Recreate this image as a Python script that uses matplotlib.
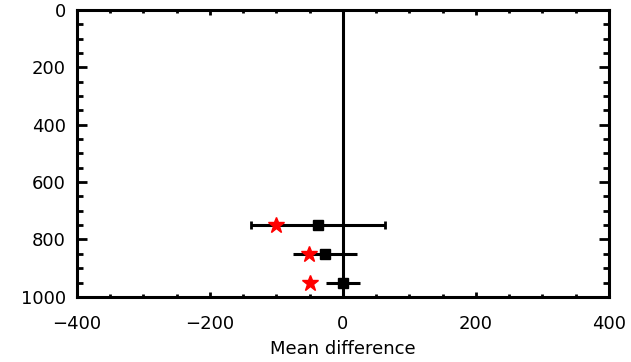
import numpy as np
import matplotlib.pyplot as plt

levels = [750, 850, 950]
black_x = [-38, -27, 0]
black_err = [101, 48, 25]
red_x = [-101, -51, -50]
black_caps = [3, 0, 0]

fig = plt.figure(figsize=(6.31, 3.62), dpi=100)
ax = fig.add_axes([0.122, 0.180, 0.843, 0.792])

ax.axvline(0, color='black', lw=2.2, zorder=1)

for x, y, e, c in zip(black_x, levels, black_err, black_caps):
    ax.errorbar(x, y, xerr=e, fmt='s', color='black', ms=7, elinewidth=2.2,
                capsize=c, capthick=2, zorder=3)
ax.plot(red_x, levels, '*', color='red', ms=12, mec='red', zorder=4, lw=0)

ax.set_xlim(-400, 400)
ax.set_ylim(1000, 0)
ax.set_xticks(np.arange(-400, 401, 200))
ax.set_xticks(np.arange(-400, 401, 50), minor=True)
ax.set_yticks(np.arange(0, 1001, 200))
ax.set_yticks(np.arange(0, 1001, 50), minor=True)
ax.tick_params(which='both', direction='in', top=True, right=True,
               width=2, labelsize=13)
ax.tick_params(axis='x', which='major', length=3.8, pad=13)
ax.tick_params(axis='x', which='minor', length=2.4)
ax.tick_params(axis='y', which='major', length=7.5, pad=8)
ax.tick_params(axis='y', which='minor', length=4.5)
ax.set_xticklabels(['\u2212400', '\u2212200', '0', '200', '400'])
for s in ax.spines.values():
    s.set_linewidth(2.2)
ax.set_xlabel('Mean difference', fontsize=13, labelpad=5)

fig.savefig('out.png', dpi=100)
